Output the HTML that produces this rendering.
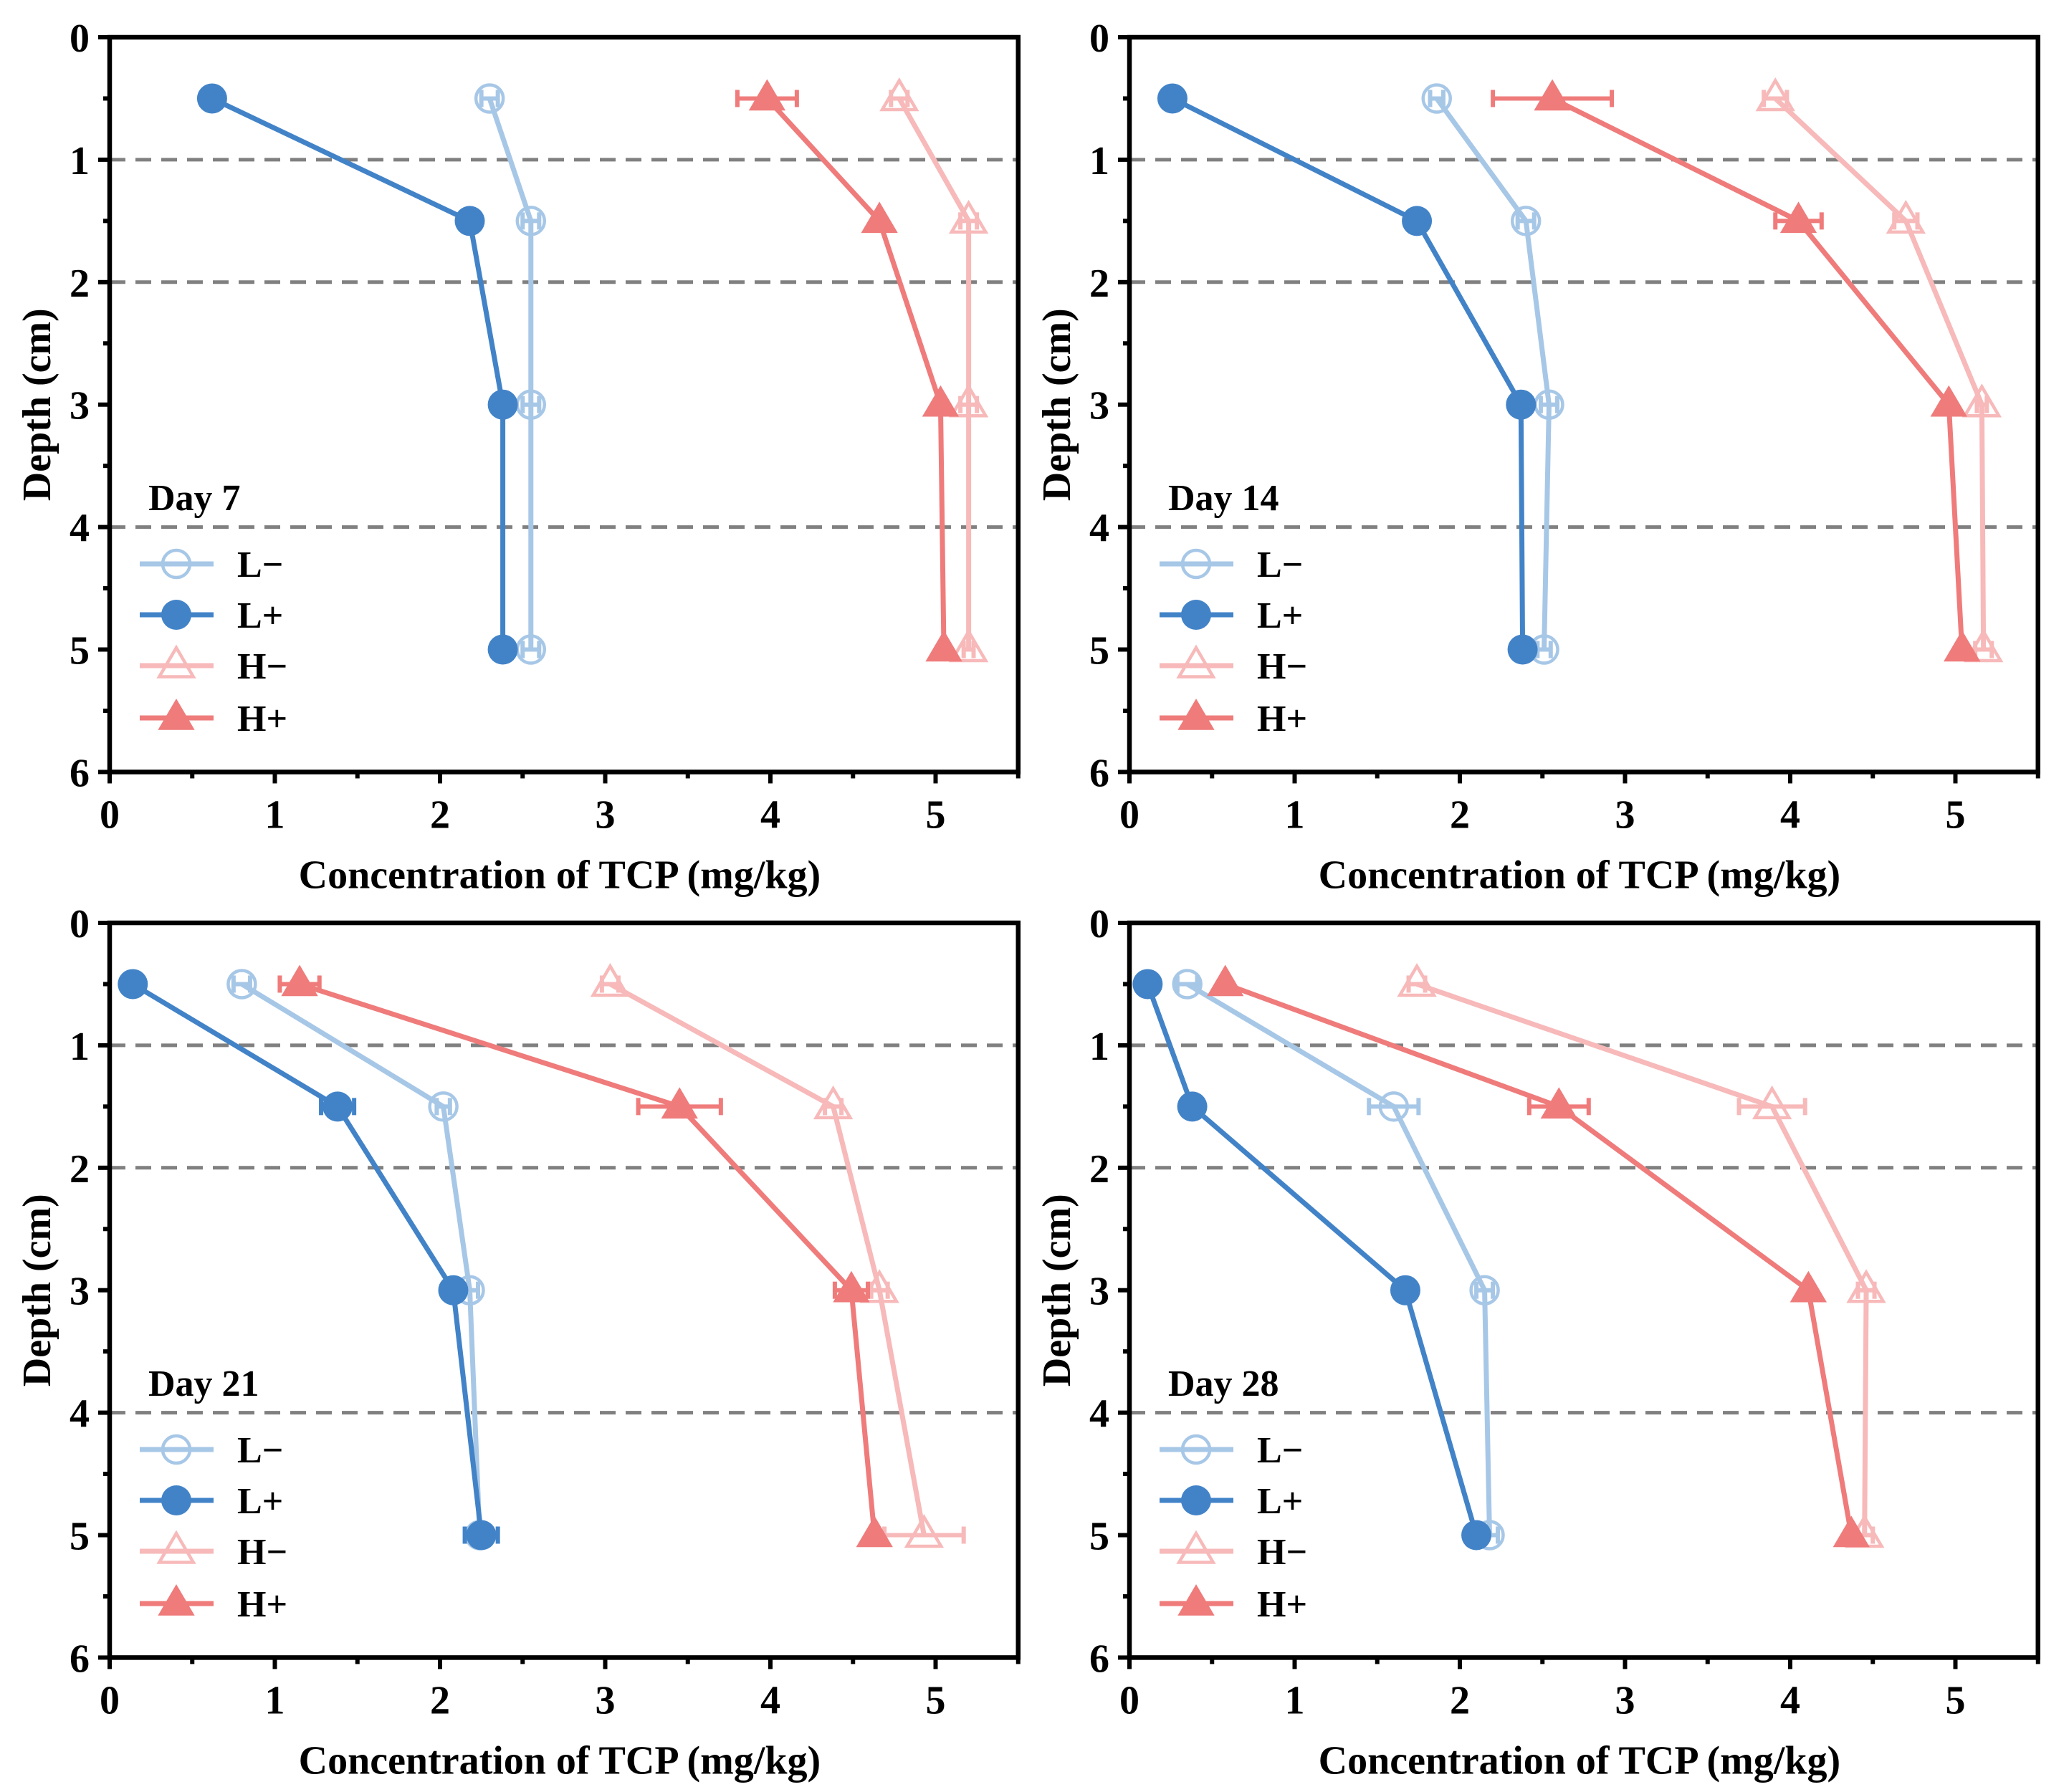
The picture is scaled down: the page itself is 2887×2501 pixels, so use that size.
<!DOCTYPE html>
<html><head><meta charset="utf-8"><style>
html,body{margin:0;padding:0;background:#fff}
svg{display:block}
text{font-family:"Liberation Serif",serif;font-weight:bold;fill:#000}
</style></head><body>
<svg id="chart" width="2887" height="2501" viewBox="0 0 2887 2501" xmlns="http://www.w3.org/2000/svg"></svg>
<script>
const depths=[0.5,1.5,3,5];
const xTicks=[0,1,2,3,4,5];
const yTicks=[0,1,2,3,4,5,6];
const dashDepths=[1,2,4];
const dayLabels=["Day 7","Day 14","Day 21","Day 28"];
const seriesNames=["L\u2212","L+","H\u2212","H+"];
// values per day: [L-, L+, H-, H+]
const d7Lm=[2.3,2.55,2.55,2.55], d7Lp=[0.62,2.18,2.38,2.38], d7Hm=[4.78,5.2,5.2,5.2], d7Hp=[3.98,4.66,5.03,5.05];
const d14Lm=[1.86,2.40,2.54,2.51], d14Lp=[0.26,1.74,2.37,2.38], d14Hm=[3.91,4.70,5.16,5.17], d14Hp=[2.56,4.05,4.96,5.04];
const d21Lm=[0.80,2.02,2.18,2.24], d21Lp=[0.14,1.38,2.08,2.25], d21Hm=[3.03,4.38,4.66,4.93], d21Hp=[1.15,3.45,4.49,4.63];
const d28Lm=[0.35,1.60,2.15,2.18], d28Lp=[0.11,0.38,1.67,2.10], d28Hm=[1.74,3.89,4.46,4.45], d28Hp=[0.58,2.60,4.11,4.37];
const d7Err=[[0.05,0.05,0.05,0.05],[0,0,0,0],[0.05,0.05,0.05,0.03],[0.18,0,0,0]];
const d14Err=[[0.04,0.05,0.05,0.04],[0,0,0,0],[0.07,0.07,0.03,0.05],[0.36,0.14,0,0]];
const d21Err=[[0.05,0.04,0.05,0.05],[0,0.1,0,0.1],[0.05,0.05,0.05,0.24],[0.12,0.25,0.1,0]];
const d28Err=[[0.06,0.15,0.05,0.05],[0,0,0,0],[0.05,0.2,0.05,0.05],[0,0.18,0,0]];
const allData=[[d7Lm,d7Lp,d7Hm,d7Hp],[d14Lm,d14Lp,d14Hm,d14Hp],[d21Lm,d21Lp,d21Hm,d21Hp],[d28Lm,d28Lp,d28Hm,d28Hp]];
const allErr=[d7Err,d14Err,d21Err,d28Err];

const colors=["#a7c7e7","#4283c8","#f7b9b9","#ef7b7b"];
const filled=[false,true,false,true];
const shapes=["circle","circle","tri","tri"];
const NS="http://www.w3.org/2000/svg";
const svg=document.getElementById('chart');
function mk(tag,attrs,parent){const e=document.createElementNS(NS,tag);for(const k in attrs)e.setAttribute(k,attrs[k]);(parent||svg).appendChild(e);return e;}
const panels=[{x0:153,y0:52},{x0:1576,y0:52},{x0:153,y0:1288},{x0:1576,y0:1288}];
const UX=230.5, UY=170.9, XMAX=5.5, YMAX=6;

function marker(g,shape,cx,cy,col,fill){
  let m;
  if(shape==="circle"){m=mk('circle',{cx:cx,cy:cy,r:fill?21:19,fill:fill?col:'#fff','fill-opacity':fill?1:0.0,stroke:col,'stroke-width':fill?0:4.5},g);}
  else{const s=fill?27:25;m=mk('polygon',{points:`${cx},${cy-s} ${cx+s*0.95},${cy+s*0.62} ${cx-s*0.95},${cy+s*0.62}`,fill:fill?col:'none',stroke:col,'stroke-width':fill?0:4.5},g);}
  return m;
}

panels.forEach((p,pi)=>{
  const X=v=>p.x0+v*UX, Y=v=>p.y0+v*UY;
  const g=mk('g',{});  
  const W=XMAX*UX, H=YMAX*UY;
  dashDepths.forEach(d=>{const l=mk('line',{x1:X(0),x2:X(XMAX),y1:Y(d),y2:Y(d),stroke:'#808080','stroke-width':5,'stroke-dasharray':'22,14'},g);
    });
  const data=allData[pi], err=allErr[pi];
  data.forEach((vals,si)=>{
    const sg=mk('g',{},g);  
    const pts=vals.map((v,i)=>X(v)+','+Y(depths[i])).join(' ');
    mk('polyline',{points:pts,fill:'none',stroke:colors[si],'stroke-width':7},sg);
    vals.forEach((v,i)=>{
      const e=err[si][i];
      if(e>0){mk('line',{x1:X(v-e),x2:X(v+e),y1:Y(depths[i]),y2:Y(depths[i]),stroke:colors[si],'stroke-width':6},sg);
        [v-e,v+e].forEach(ev=>mk('line',{x1:X(ev),x2:X(ev),y1:Y(depths[i])-12,y2:Y(depths[i])+12,stroke:colors[si],'stroke-width':6},sg));}
      const m=marker(sg,shapes[si],X(v),Y(depths[i]),colors[si],filled[si]);
      
      
    });
  });
  const fr=mk('rect',{x:p.x0,y:p.y0,width:W,height:H,fill:'none',stroke:'#000','stroke-width':6.5},g);
  
  for(let t=0;t<=XMAX+0.001;t+=0.5){const maj=Math.abs(t-Math.round(t))<0.01;
    mk('line',{x1:X(t),x2:X(t),y1:Y(YMAX),y2:Y(YMAX)+(maj?16:9),stroke:'#000','stroke-width':6},g);}
  xTicks.forEach(t=>{const tx=mk('text',{x:X(t),y:Y(YMAX)+78,'font-size':56,'text-anchor':'middle'},g);tx.textContent=t;
    });
  for(let t=0;t<=YMAX+0.001;t+=0.5){const maj=Math.abs(t-Math.round(t))<0.01;
    mk('line',{x1:X(0),x2:X(0)-(maj?16:9),y1:Y(t),y2:Y(t),stroke:'#000','stroke-width':6},g);}
  yTicks.forEach(t=>{const tx=mk('text',{x:X(0)-28,y:Y(t)+20,'font-size':56,'text-anchor':'end'},g);tx.textContent=t;
    });
  const xt=mk('text',{x:p.x0+W/2-6,y:Y(YMAX)+162,'font-size':56,'text-anchor':'middle'},g);xt.textContent='Concentration of TCP (mg/kg)';
  
  const cy=p.y0+H/2; const yt=mk('text',{x:0,y:0,'font-size':56,'text-anchor':'middle',transform:`translate(${p.x0-83},${cy}) rotate(-90)`},g);yt.textContent='Depth (cm)';
  
  const dl=mk('text',{x:p.x0+54,y:p.y0+660,'font-size':52},g);dl.textContent=dayLabels[pi];
  
  const lg=mk('g',{},g);
  const rows=[735,806,877,950];
  seriesNames.forEach((n,si)=>{
    const ry=p.y0+rows[si];
    const eg=mk('g',{},lg);
    mk('line',{x1:p.x0+42,x2:p.x0+145,y1:ry,y2:ry,stroke:colors[si],'stroke-width':7},eg);
    marker(eg,shapes[si],p.x0+93,ry,colors[si],filled[si]);
    const t=mk('text',{x:p.x0+178,y:ry+18,'font-size':52},eg);t.textContent=n;
  });
});
</script>
</body></html>
